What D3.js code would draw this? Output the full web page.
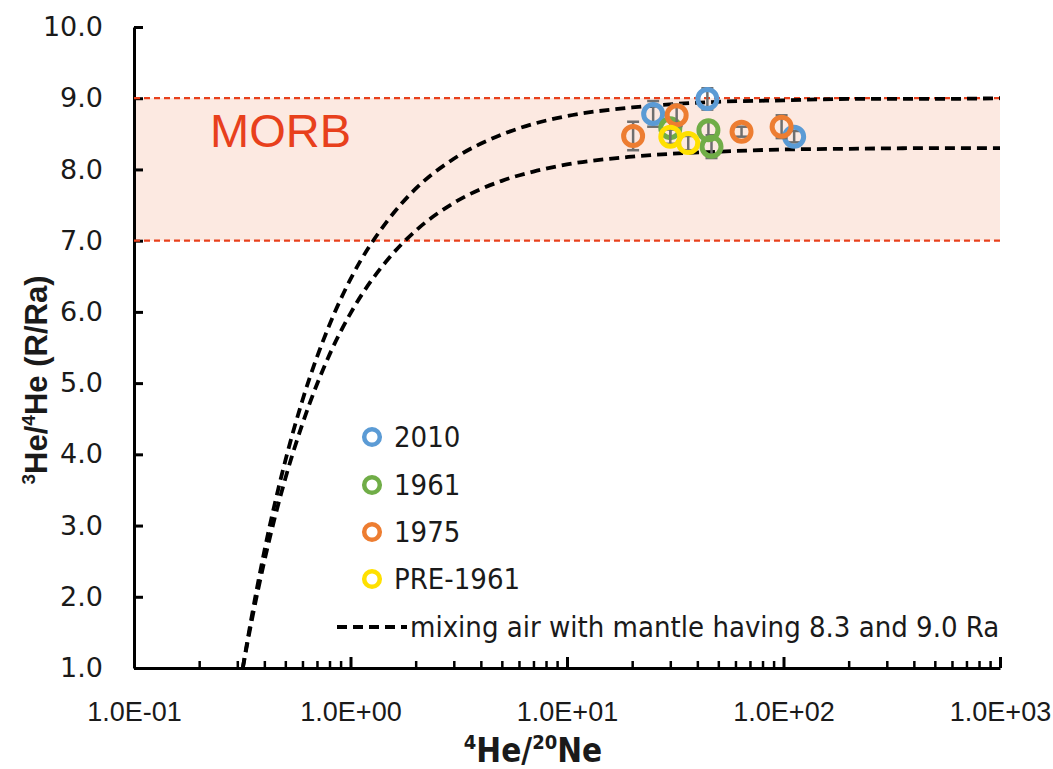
<!DOCTYPE html>
<html>
<head>
<meta charset="utf-8">
<script src="https://cdn.jsdelivr.net/npm/d3@7"></script>
<style>
  html, body { margin: 0; padding: 0; background: #fff; }
  svg { display: block; }
</style>
</head>
<body>
<svg id="chart" width="1053" height="769"></svg>
<script>
// Helium isotope ratio vs 4He/20Ne, with MORB range and air–mantle mixing curves

const xTickValues = [0.1, 1, 10, 100, 1000];
const xTickLabels = ["1.0E-01", "1.0E+00", "1.0E+01", "1.0E+02", "1.0E+03"];
const yTickValues = [1, 2, 3, 4, 5, 6, 7, 8, 9, 10];

const morbRange = [7.0, 9.0];

// Mixing curves: air (R = 1 Ra) with mantle end-members of 9.0 and 8.3 Ra
const mixHeNe = [0.318, 0.35, 0.4, 0.5, 0.6, 0.8, 1, 1.5, 2, 3, 5, 7, 10, 20, 50, 100, 200, 500, 1000];
const mix90   = [1.0, 1.73, 2.64, 3.91, 4.76, 5.82, 6.46, 7.30, 7.73, 8.15, 8.49, 8.64, 8.75, 8.87, 8.95, 8.97, 8.99, 8.99, 9.0];
const mix83   = [1.0, 1.67, 2.50, 3.66, 4.43, 5.40, 5.98, 6.75, 7.14, 7.53, 7.84, 7.97, 8.07, 8.18, 8.25, 8.28, 8.29, 8.30, 8.30];

// Samples by eruption group: 4He/20Ne, R/Ra, 1-sigma error
const seriesNames  = ["2010", "1961", "1975", "PRE-1961"];
const seriesColors = ["#5b9bd5", "#70ad47", "#ed7d31", "#ffe000"];

const heNe2010 = [44.5, 25.0, 112];
const ratio2010 = [8.99, 8.78, 8.46];
const err2010 = [0.15, 0.18, 0.08];

const heNe1961 = [30.0, 45.0, 46.5];
const ratio1961 = [8.58, 8.55, 8.32];
const err1961 = [0.12, 0.13, 0.16];

const heNe1975 = [20.2, 32.1, 64.0, 98.0];
const ratio1975 = [8.47, 8.76, 8.53, 8.60];
const err1975 = [0.20, 0.15, 0.07, 0.16];

const heNePre = [30.0, 36.3];
const ratioPre = [8.46, 8.37];
const errPre = [0.10, 0.10];

const series = [
  { name: seriesNames[0], color: seriesColors[0], x: heNe2010, y: ratio2010, e: err2010 },
  { name: seriesNames[1], color: seriesColors[1], x: heNe1961, y: ratio1961, e: err1961 },
  { name: seriesNames[2], color: seriesColors[2], x: heNe1975, y: ratio1975, e: err1975 },
  { name: seriesNames[3], color: seriesColors[3], x: heNePre,  y: ratioPre,  e: errPre }
];

const svg = d3.select("#chart");
const plot = { left: 134, right: 1000, top: 27, bottom: 668 };

const x = d3.scaleLog().domain([0.1, 1000]).range([plot.left, plot.right]);
const y = d3.scaleLinear().domain([1, 10]).range([plot.bottom, plot.top]);

// MORB band
svg.append("rect")
  .attr("x", plot.left).attr("width", plot.right - plot.left)
  .attr("y", y(morbRange[1])).attr("height", y(morbRange[0]) - y(morbRange[1]))
  .attr("fill", "#fce9e1");

svg.append("text")
  .attr("x", 210).attr("y", 147)
  .attr("font-family", "Liberation Sans, Arial, sans-serif")
  .attr("font-size", 47)
  .attr("fill", "#e8401c")
  .text("MORB");

// Axes: ticks point into the plot
const yAxis = d3.axisLeft(y).tickValues(yTickValues).tickSizeInner(-9).tickSizeOuter(0)
  .tickFormat(d3.format(".1f")).tickPadding(31);
const gy = svg.append("g").attr("transform", `translate(${plot.left},0)`).call(yAxis);
gy.select(".domain").attr("stroke", "#000").attr("stroke-width", 3);
gy.selectAll(".tick line").attr("stroke", "#000").attr("stroke-width", 3);
gy.selectAll(".tick text")
  .attr("font-family", "DejaVu Sans, Verdana, sans-serif")
  .attr("font-size", 27).attr("fill", "#1a1a1a");

const minorTicks = [];
for (let e = -1; e < 3; e++) for (let m = 2; m <= 9; m++) minorTicks.push(m * Math.pow(10, e));

const xMinor = d3.axisBottom(x).tickValues(minorTicks).tickSizeInner(-7).tickSizeOuter(0).tickFormat("");
const gxm = svg.append("g").attr("transform", `translate(0,${plot.bottom})`).call(xMinor);
gxm.select(".domain").remove();
gxm.selectAll(".tick line").attr("stroke", "#000").attr("stroke-width", 2.5);

const xAxis = d3.axisBottom(x).tickValues(xTickValues).tickSizeInner(-11).tickSizeOuter(0)
  .tickFormat((d, i) => xTickLabels[i]).tickPadding(34);
const gx = svg.append("g").attr("transform", `translate(0,${plot.bottom})`).call(xAxis);
gx.select(".domain").attr("stroke", "#000").attr("stroke-width", 3);
gx.selectAll(".tick line").attr("stroke", "#000").attr("stroke-width", 3);
gx.selectAll(".tick text")
  .attr("font-family", "Liberation Sans, Arial, sans-serif")
  .attr("font-size", 27).attr("fill", "#1a1a1a");

// MORB boundaries
svg.selectAll(".morb-line").data(morbRange).enter().append("line")
  .attr("x1", plot.left).attr("x2", plot.right)
  .attr("y1", d => y(d)).attr("y2", d => y(d))
  .attr("stroke", "#e8401c").attr("stroke-width", 2.2)
  .attr("stroke-dasharray", "6,4");

// Mixing curves
const line = d3.line().x(d => x(d[0])).y(d => y(d[1])).curve(d3.curveMonotoneX);
[mix90, mix83].forEach(vals => {
  svg.append("path")
    .datum(mixHeNe.map((h, i) => [h, vals[i]]))
    .attr("d", line)
    .attr("fill", "none").attr("stroke", "#000")
    .attr("stroke-width", 3.8).attr("stroke-dasharray", "10,6");
});

// Data points with error bars
const capHalf = 6;
series.forEach(s => {
  const pts = s.x.map((h, i) => ({ h, r: s.y[i], e: s.e[i] }));
  const g = svg.append("g");
  const eb = g.selectAll(".eb").data(pts).enter().append("g").attr("stroke", "#6f6f6f").attr("stroke-width", 2.5);
  eb.append("line").attr("x1", d => x(d.h)).attr("x2", d => x(d.h))
    .attr("y1", d => y(d.r - d.e)).attr("y2", d => y(d.r + d.e));
  eb.append("line").attr("x1", d => x(d.h) - capHalf).attr("x2", d => x(d.h) + capHalf)
    .attr("y1", d => y(d.r + d.e)).attr("y2", d => y(d.r + d.e));
  eb.append("line").attr("x1", d => x(d.h) - capHalf).attr("x2", d => x(d.h) + capHalf)
    .attr("y1", d => y(d.r - d.e)).attr("y2", d => y(d.r - d.e));
  g.selectAll("circle").data(pts).enter().append("circle")
    .attr("cx", d => x(d.h)).attr("cy", d => y(d.r)).attr("r", 9.5)
    .attr("fill", "none").attr("stroke", s.color).attr("stroke-width", 5);
});

// Legend
const legendFont = "DejaVu Sans Condensed, Liberation Sans Narrow, Arial Narrow, sans-serif";
const legY = [437, 485, 532, 579];
series.forEach((s, i) => {
  svg.append("circle").attr("cx", 372).attr("cy", legY[i]).attr("r", 7.8)
    .attr("fill", "none").attr("stroke", s.color).attr("stroke-width", 4.5);
  svg.append("text").attr("x", 394).attr("y", legY[i] + 10)
    .attr("font-family", legendFont).attr("font-size", 29).attr("fill", "#1a1a1a")
    .text(s.name);
});
svg.append("line").attr("x1", 337).attr("x2", 407).attr("y1", 627).attr("y2", 627)
  .attr("stroke", "#000").attr("stroke-width", 3.8).attr("stroke-dasharray", "10,6");
svg.append("text").attr("x", 410).attr("y", 637)
  .attr("font-family", legendFont).attr("font-size", 29).attr("fill", "#1a1a1a")
  .text("mixing air with mantle having 8.3 and 9.0 Ra");

// Axis titles
const yTitle = svg.append("text")
  .attr("transform", "translate(47,380) rotate(-90)")
  .attr("text-anchor", "middle")
  .attr("font-family", "Liberation Sans, Arial, sans-serif")
  .attr("font-weight", "bold").attr("font-size", 31).attr("fill", "#1a1a1a");
yTitle.append("tspan").attr("font-size", 19).attr("dy", -12).text("3");
yTitle.append("tspan").attr("dy", 12).text("He/");
yTitle.append("tspan").attr("font-size", 19).attr("dy", -12).text("4");
yTitle.append("tspan").attr("dy", 12).text("He (R/Ra)");

const xTitle = svg.append("text")
  .attr("x", 533).attr("y", 762)
  .attr("text-anchor", "middle")
  .attr("font-family", "DejaVu Sans Condensed, Liberation Sans Narrow, Arial Narrow, sans-serif")
  .attr("font-weight", "bold").attr("font-size", 33).attr("fill", "#1a1a1a");
xTitle.append("tspan").attr("font-size", 20).attr("dy", -13).text("4");
xTitle.append("tspan").attr("dy", 13).text("He/");
xTitle.append("tspan").attr("font-size", 20).attr("dy", -13).text("20");
xTitle.append("tspan").attr("dy", 13).text("Ne");
</script>
</body>
</html>
